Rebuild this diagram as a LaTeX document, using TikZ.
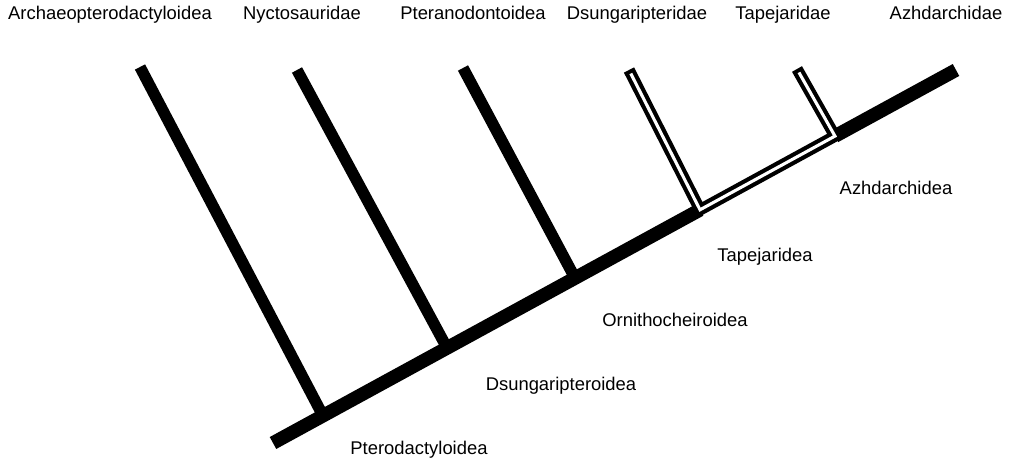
\documentclass[tikz,border=0pt]{standalone}
\usepackage{fontspec}
\setmainfont{Liberation Sans}
\usetikzlibrary{calc}
\begin{document}
\begin{tikzpicture}[x=0.75pt,y=-0.75pt,
  trunk/.style={line width=10.2pt},
  branch/.style={line width=8.6pt},
  hollowout/.style={line width=8.6pt, line join=miter, miter limit=10},
  hollowin/.style={white, line width=2.3pt, line join=miter, miter limit=10, shorten <=3pt, shorten >=3pt},
  lbl/.style={font=\fontsize{13.8pt}{16pt}\selectfont, inner sep=0pt, anchor=base}]
\useasboundingbox (0,0) rectangle (1011,463);
% trunk ends
\coordinate (A) at (273,443);
\coordinate (B) at (956,70);
% junctions on trunk
\coordinate (j1) at ($(A)!0.0732!(B)$);
\coordinate (j2) at ($(A)!0.2548!(B)$);
\coordinate (j3) at ($(A)!0.4422!(B)$);
\coordinate (j4) at ($(A)!0.6252!(B)$);
\coordinate (j5) at ($(A)!0.8228!(B)$);
% branch tips
\coordinate (t1) at (140,67);
\coordinate (t2) at (297,70);
\coordinate (t3) at (463,68);
\coordinate (t4) at (629,70);
\coordinate (t5) at (797,69);
% trunk
\draw[trunk] (A) -- (j4);
\draw[trunk] (j5) -- (B);
% solid branches
\draw[branch] (t1) -- (j1);
\draw[branch] (t2) -- (j2);
\draw[branch] (t3) -- (j3);
% hollow clade
\draw[hollowout] (t4) -- (j4) -- (j5) -- (t5);
\draw[hollowin] (t4) -- (j4) -- (j5) -- (t5);
% taxon labels
\node[lbl] (n1) at (110,20) {Archaeopterodactyloidea};
\node[lbl] (n2) at (302,20) {Nyctosauridae};
\node[lbl] (n3) at (473,20) {Pteranodontoidea};
\node[lbl] (n4) at (637,20) {Dsungaripteridae};
\node[lbl] (n5) at (783,20) {Tapejaridae};
\node[lbl] (n6) at (946,20) {Azhdarchidae};
% clade labels
\node[lbl] (c1) at (896,195) {Azhdarchidea};
\node[lbl] (c2) at (765,262) {Tapejaridea};
\node[lbl] (c3) at (675,327) {Ornithocheiroidea};
\node[lbl] (c4) at (561,391) {Dsungaripteroidea};
\node[lbl] (c5) at (419,455) {Pterodactyloidea};
\end{tikzpicture}
\end{document}
